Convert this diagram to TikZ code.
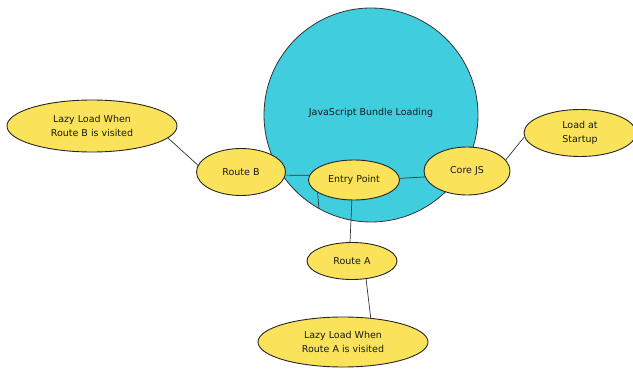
\documentclass[tikz,border=0pt]{standalone}
\usepackage{fontspec}
\setmainfont{DejaVu Sans}
\usetikzlibrary{shapes.geometric}

\definecolor{bundlecyan}{RGB}{64,206,222}
\definecolor{leafyellow}{RGB}{250,227,90}

\begin{document}
\begin{tikzpicture}[x=1pt, y=-1pt,
   every node/.style={font=\fontsize{9.5}{14}\selectfont, text=black!90},
   bubble/.style={ellipse, draw=black!85, line width=0.9pt, fill=leafyellow, inner sep=0pt, align=center},
   hub/.style={circle, draw=black!80, line width=0.8pt, fill=bundlecyan, inner sep=0pt, minimum size=214pt},
   link/.style={draw=black!80, line width=0.7pt}]
\useasboundingbox (0,0) rectangle (633,369);
% root
\node [hub] (root) at (371,115) {};
\node at (371,113) {JavaScript Bundle Loading};
% leaves
\node [bubble, minimum width=91pt, minimum height=40pt] (entry) at (354,180) {Entry Point};
\node [bubble, minimum width=89pt, minimum height=47pt] (routeB) at (241,172) {Route B};
\node [bubble, minimum width=86pt, minimum height=48pt] (core) at (467,171) {Core JS};
\node [bubble, minimum width=90pt, minimum height=37pt] (routeA) at (352,261) {Route A};
\node [bubble, minimum width=170pt, minimum height=52pt] (lazyB) at (92,126) {Lazy Load When\\Route B is visited};
\node [bubble, minimum width=170pt, minimum height=50pt] (lazyA) at (343,342) {Lazy Load When\\Route A is visited};
\node [bubble, minimum width=112pt, minimum height=47pt] (startup) at (580,133) {Load at\\Startup};
\coordinate (rim) at (root.241);
% connectors
\draw [link] (lazyB.-9) -- (routeB.171);
\draw [link] (routeB.-4) -- (entry.174);
\draw [link] (entry.2) -- (core.188);
\draw [link] (core.16) -- (startup.184);
\draw [link] (entry.264) -- (routeA.96);
\draw [link] (entry.199) -- (rim);
\draw [link] (routeA.-52) -- (lazyA.41);
\end{tikzpicture}
\end{document}
